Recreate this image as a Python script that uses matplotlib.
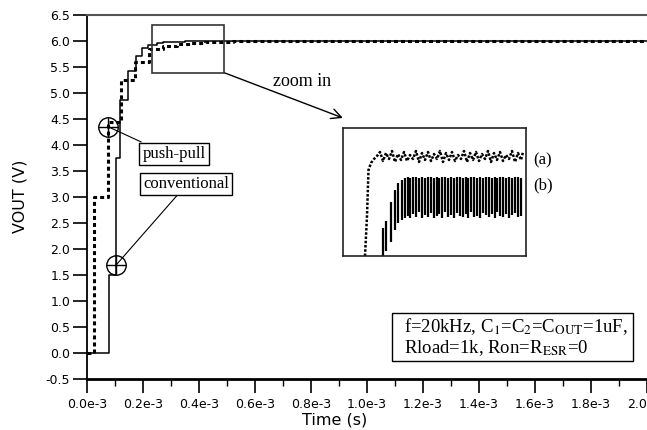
import matplotlib
matplotlib.use('Agg')
import matplotlib.pyplot as plt
import numpy as np
from matplotlib.patches import Rectangle

plt.rcParams['mathtext.fontset'] = 'stix'
SERIF = 'Liberation Serif'
SANS = 'DejaVu Sans'

# ---- main traces (time in ms, voltage in V) ----
conv_t = [0.0, 0.0775, 0.1025, 0.118, 0.1475, 0.174, 0.195, 0.219, 0.249, 0.271, 0.30, 0.325, 0.35, 2.0]
conv_v = [0.0, 1.5, 3.75, 4.875, 5.42, 5.72, 5.86, 5.92, 5.955, 5.975, 5.985, 5.99, 6.0, 6.0]

pp_t = [0.0, 0.026, 0.0755, 0.12, 0.171, 0.2225, 0.271, 0.32, 0.37, 0.42, 0.47, 0.52, 2.0]
pp_v = [0.0, 3.0, 4.45, 5.25, 5.6, 5.84, 5.91, 5.95, 5.97, 5.98, 5.99, 6.0, 6.0]

# marker points (ms, V)
pp_mark = (0.076, 4.35)
conv_mark = (0.1036, 1.69)

xticks_ms = [0.0, 0.2, 0.4, 0.6, 0.8, 1.0, 1.2, 1.4, 1.6, 1.8, 2.0]
xtick_labels = ['0.0e-3', '0.2e-3', '0.4e-3', '0.6e-3', '0.8e-3', '1.0e-3',
                '1.2e-3', '1.4e-3', '1.6e-3', '1.8e-3', '2.0e-3']
yticks = [-0.5, 0.0, 0.5, 1.0, 1.5, 2.0, 2.5, 3.0, 3.5, 4.0, 4.5, 5.0, 5.5, 6.0, 6.5]
ytick_labels = ['-0.5', '0.0', '0.5', '1.0', '1.5', '2.0', '2.5', '3.0', '3.5',
                '4.0', '4.5', '5.0', '5.5', '6.0', '6.5']

# ---- zoomed inset traces (inset units) ----
a_t = [22, 24, 25.5, 28, 31, 34,
       37, 40, 43, 46, 49, 52, 55, 58, 61, 64, 67, 70, 73, 76, 79, 82, 85, 88, 91, 94,
       97, 100, 103, 106, 109, 112, 115, 118, 121, 124, 127, 130, 133, 136, 139, 142,
       145, 148, 151, 154, 157, 160, 163, 166, 169, 172, 175, 178, 180]
a_v = [0, 40, 86, 93, 97, 100,
       104, 95, 103, 97, 105, 94, 102, 96, 104, 95, 101, 97, 105, 94, 103, 96, 104, 95,
       102, 97, 105, 94, 103, 96, 104, 95, 101, 97, 105, 94, 103, 96, 104, 95, 102, 97,
       105, 94, 103, 96, 104, 95, 101, 97, 105, 94, 103, 96, 104]

b_t = [39.7, 42.5, 48.0, 52.0, 55.3, 58.5, 61.5,
       64.5, 67.4, 70.3, 73.2, 76.1, 79.0, 81.9, 84.8, 87.7, 90.6, 93.5, 96.4, 99.3,
       102.2, 105.1, 108.0, 110.9, 113.8, 116.7, 119.6, 122.5, 125.4, 128.3, 131.2,
       134.1, 137.0, 139.9, 142.8, 145.7, 148.6, 151.5, 154.4, 157.3, 160.2, 163.1,
       166.0, 168.9, 171.8, 174.7, 177.6]
b_top = [28, 35, 54, 66, 73, 76, 78,
         79, 78, 79, 79, 78, 79, 78, 79, 79, 78, 79, 78, 79, 79, 78, 79, 78, 79, 79, 78,
         79, 78, 79, 79, 78, 79, 78, 79, 79, 78, 79, 78, 79, 79, 78, 79, 78, 79, 79, 78]
b_bot = [0, 5, 14, 26, 33, 36, 38,
         40, 38, 42, 39, 44, 38, 41, 39, 43, 38, 40, 42, 38, 44, 39, 41, 38, 43, 40, 39,
         42, 38, 44, 39, 40, 38, 43, 41, 39, 42, 38, 44, 40, 39, 42, 38, 41, 43, 39, 40]

# ---- figure ----
fig = plt.figure(figsize=(6.47, 4.30), dpi=100)
ax = fig.add_axes([87 / 647, 1 - 379 / 430, 560 / 647, 364 / 430])

ms = 1e-3
ax.plot(np.array(conv_t) * ms, conv_v, drawstyle='steps-post', color='black', lw=1.1, zorder=3)
ax.plot(np.array(pp_t) * ms, pp_v, drawstyle='steps-post', color='black', lw=2.2,
        linestyle=(0, (1.3, 1.0)), zorder=4)

ax.set_xlim(0, 2.0e-3)
ax.set_ylim(-0.5, 6.5)
ax.set_xticks(np.array(xticks_ms) * ms)
ax.set_xticklabels(xtick_labels, fontsize=9, family=SANS)
ax.set_xticks(np.arange(0.1, 2.0, 0.2) * ms, minor=True)
ax.set_yticks(yticks)
ax.set_yticklabels(ytick_labels, fontsize=9, family=SANS)
ax.tick_params(axis='both', which='major', direction='out', length=10, width=1.2, pad=2, colors='black')
ax.tick_params(axis='x', which='major', pad=4)
ax.tick_params(axis='x', which='minor', direction='out', length=5, width=1.0)

ax.spines['right'].set_visible(False)
ax.spines['top'].set_color('#555555')
ax.spines['top'].set_linewidth(1.5)
ax.spines['left'].set_linewidth(1.3)
ax.spines['bottom'].set_linewidth(2.0)

fig.text(20 / 647, 1 - 196 / 430, 'VOUT (V)', rotation=90, ha='center', va='center',
         fontsize=11.5, family=SANS)
fig.text(335 / 647, 1 - 420 / 430, 'Time (s)', ha='center', va='center',
         fontsize=11.5, family=SANS)

# markers
for (mt, mv) in (pp_mark, conv_mark):
    ax.plot([mt * ms], [mv], marker='o', ms=14, mfc='none', mec='black', mew=1.0, zorder=5)
    ax.plot([mt * ms], [mv], marker='+', ms=14, mec='black', mew=1.0, zorder=5)

# leader lines
ax.plot([pp_mark[0] * ms, 0.193e-3], [pp_mark[1], 4.06], color='black', lw=0.8)
ax.plot([conv_mark[0] * ms, 0.320e-3], [conv_mark[1], 3.02], color='black', lw=0.8)

box = dict(boxstyle='square,pad=0.2', fc='white', ec='black', lw=1.0)
ax.text(0.311e-3, 3.83, 'push-pull', family=SERIF, fontsize=12, ha='center', va='center', bbox=box, zorder=6)
ax.text(0.354e-3, 3.25, 'conventional', family=SERIF, fontsize=12, ha='center', va='center', bbox=box, zorder=6)

# zoom rectangle + arrow
ax.add_patch(Rectangle((0.231e-3, 5.39), 0.259e-3, 0.92, fill=False, ec='#333333', lw=1.2, zorder=6))
ax.annotate('', xy=(0.914e-3, 4.52), xytext=(0.49e-3, 5.39),
            arrowprops=dict(arrowstyle='->', color='black', lw=1.0, mutation_scale=18,
                            shrinkA=0, shrinkB=0))
ax.text(0.768e-3, 5.23, 'zoom in', family=SERIF, fontsize=13, ha='center', va='center')

# (a), (b)
ax.text(1.593e-3, 3.71, '(a)', family=SERIF, fontsize=12, ha='left', va='center')
ax.text(1.593e-3, 3.23, '(b)', family=SERIF, fontsize=12, ha='left', va='center')

# parameter box
ax.add_patch(Rectangle((1.088e-3, -0.154), 0.861e-3, 0.923, fill=False, ec='black', lw=1.0, zorder=6))
ax.text(1.132e-3, 0.41, r'f=20kHz, C$_1$=C$_2$=C$_{\rm OUT}$=1uF,', family=SERIF, fontsize=13.5,
        ha='left', va='baseline')
ax.text(1.132e-3, -0.006, r'Rload=1k, Ron=R$_{\rm ESR}$=0', family=SERIF, fontsize=13.5,
        ha='left', va='baseline')

# inset
axin = fig.add_axes([343 / 647, 1 - 256 / 430, 183 / 647, 128 / 430])
axin.set_xlim(0, 183)
axin.set_ylim(0, 128)
axin.set_xticks([])
axin.set_yticks([])
for s in axin.spines.values():
    s.set_linewidth(1.2)
    s.set_color('#222222')
axin.plot(a_t, a_v, color='black', lw=1.8, linestyle=(0, (1.0, 0.7)))
axin.vlines(b_t, b_bot, b_top, color='black', lw=1.6)

fig.savefig('out.png', dpi=100)
